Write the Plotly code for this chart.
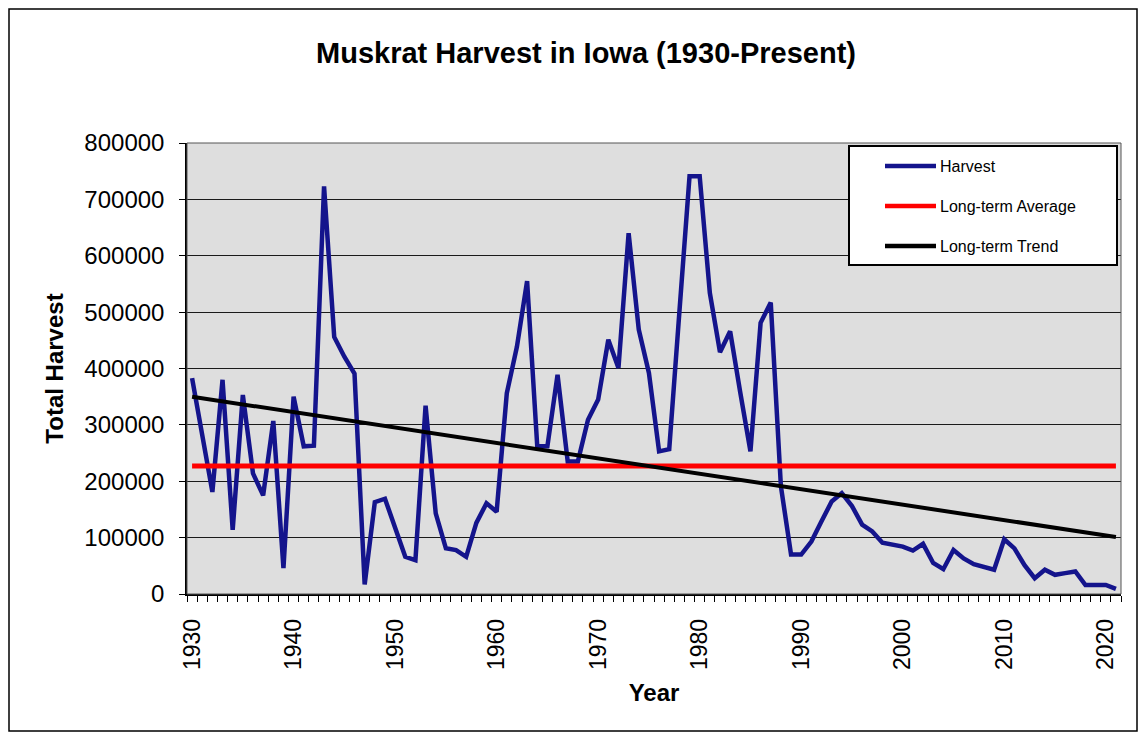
import plotly.graph_objects as go

# ---------------- data ----------------
years = list(range(1930, 2022))
harvest = [
    383000, 280000, 181000, 380000, 114000, 353000, 214000, 175000, 307000, 46000,   # 1930-1939
    350000, 262000, 263000, 723000, 456000, 421000, 391000, 17000, 163000, 169000,   # 1940-1949
    119000, 66000, 60000, 334000, 143000, 81000, 78000, 66000, 126000, 161000,       # 1950-1959
    146000, 356000, 439000, 555000, 262000, 262000, 389000, 235000, 235000, 309000,  # 1960-1969
    345000, 451000, 401000, 640000, 469000, 392000, 253000, 257000, 500000, 741000,  # 1970-1979
    741000, 534000, 429000, 466000, 357000, 253000, 481000, 517000, 191000, 70000,   # 1980-1989
    70000, 93000, 129000, 164000, 179000, 156000, 123000, 111000, 91000, 87000,      # 1990-1999
    84000, 77000, 89000, 55000, 44000, 78000, 63000, 53000, 47000, 43000,            # 2000-2009
    97000, 81000, 51000, 28000, 43000, 34000, 37000, 40000, 16000, 15000,            # 2010-2019
    16000, 9000,                                                                     # 2020-2021
]
long_term_average = 227000
trend_years = [1930, 2021]
trend_values = [350000, 101000]

x_tick_years = list(range(1930, 2021, 10))
y_tick_values = list(range(0, 800001, 100000))

legend_names = ["Harvest", "Long-term Average", "Long-term Trend"]
legend_colors = ["#14148C", "#FF0000", "#000000"]

# ---------------- figure ----------------
# The page body has an 8px margin; the figure is made 16px smaller so that
# it fits the 1146x740 window without scrollbars, and positions are shifted.
OFF = 8
W, H = 1146 - 2 * OFF, 740 - 2 * OFF
L = 187 - OFF
T = 143 - OFF
B = H - (594 - OFF)
R = W - (1121 - OFF)
pw, ph = W - L - R, H - T - B

FONT = "Arial, Liberation Sans, sans-serif"

fig = go.Figure()
fig.add_trace(go.Scatter(x=years, y=harvest, mode="lines", name=legend_names[0],
                         line=dict(color=legend_colors[0], width=4.5), showlegend=False))
fig.add_trace(go.Scatter(x=[years[0], years[-1]], y=[long_term_average, long_term_average],
                         mode="lines", name=legend_names[1],
                         line=dict(color=legend_colors[1], width=5), showlegend=False))
fig.add_trace(go.Scatter(x=trend_years, y=trend_values, mode="lines", name=legend_names[2],
                         line=dict(color=legend_colors[2], width=4), showlegend=False))


def px_x(x):
    # x given in screen pixels
    return (x - OFF - L) / pw


def px_y(y):
    return (H - B - (y - OFF)) / ph


shapes = []
# outer chart border
shapes.append(dict(type="rect", xref="paper", yref="paper",
                   x0=px_x(9), x1=px_x(1137), y0=px_y(731), y1=px_y(9),
                   line=dict(color="black", width=1.5), fillcolor="rgba(0,0,0,0)", layer="below"))
# plot-area frame (top/right in gray)
shapes.append(dict(type="rect", xref="paper", yref="paper", x0=0, x1=1, y0=0, y1=1,
                   line=dict(color="#555555", width=1), fillcolor="rgba(0,0,0,0)", layer="above"))

# legend box
shapes.append(dict(type="rect", xref="paper", yref="paper",
                   x0=px_x(849), x1=px_x(1117), y0=px_y(265), y1=px_y(146),
                   line=dict(color="black", width=2), fillcolor="white", layer="above"))
annotations = []
legend_rows = [166, 206, 246]
for name, color, ry in zip(legend_names, legend_colors, legend_rows):
    shapes.append(dict(type="line", xref="paper", yref="paper",
                       x0=px_x(885), x1=px_x(936), y0=px_y(ry), y1=px_y(ry),
                       line=dict(color=color, width=4.5), layer="above"))
    annotations.append(dict(xref="paper", yref="paper", x=px_x(938), y=px_y(ry),
                            xanchor="left", yanchor="middle", showarrow=False,
                            text=name, font=dict(family=FONT, size=16, color="black")))

fig.update_layout(
    width=W, height=H,
    margin=dict(l=L, r=R, t=T, b=B, pad=0),
    paper_bgcolor="white",
    plot_bgcolor="#DEDEDE",
    title=dict(text="<b>Muskrat Harvest in Iowa (1930-Present)</b>",
               x=(586 - OFF) / W, xanchor="center", y=1 - (53 - OFF) / H, yanchor="middle",
               font=dict(family=FONT, size=29, color="black")),
    showlegend=False,
    shapes=shapes,
    annotations=annotations,
    font=dict(family=FONT, color="black"),
)

fig.update_xaxes(
    range=[1929.5, 2021.5],
    tickmode="array", tickvals=x_tick_years, ticktext=[str(v) for v in x_tick_years],
    tickangle=-90, ticks="", tickfont=dict(family=FONT, size=23, color="black"),
    ticklabelstandoff=14,
    minor=dict(tickmode="array", tickvals=[y - 0.5 for y in years] + [years[-1] + 0.5],
               ticks="outside", ticklen=6, tickcolor="black", tickwidth=1, showgrid=False),
    showgrid=False, zeroline=False,
    showline=True, linecolor="black", linewidth=1.5,
    title=dict(text="<b>Year</b>", font=dict(family=FONT, size=24, color="black"), standoff=15),
)
fig.update_yaxes(
    range=[0, 800000],
    tickmode="array", tickvals=y_tick_values, ticktext=[str(v) for v in y_tick_values],
    ticks="outside", ticklen=6, tickcolor="black", tickwidth=1,
    tickfont=dict(family=FONT, size=24, color="black"),
    ticklabelstandoff=10,
    showgrid=True, gridcolor="#1a1a1a", gridwidth=1,
    zeroline=False,
    showline=True, linecolor="black", linewidth=1.5,
    title=dict(text="<b>Total Harvest</b>", font=dict(family=FONT, size=24, color="black"), standoff=14),
)

fig.write_html("out.html")
